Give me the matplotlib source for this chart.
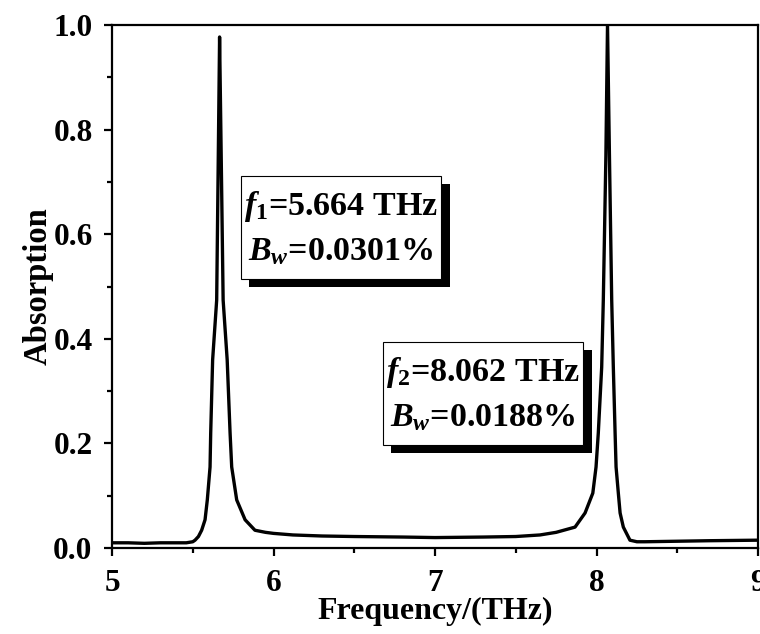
import matplotlib
matplotlib.use("Agg")
import matplotlib.pyplot as plt
from matplotlib.ticker import AutoMinorLocator
import matplotlib.patheffects as pe

# ---- data ----
freq = [5.00, 5.10, 5.20, 5.30, 5.40, 5.46, 5.50, 5.514, 5.535, 5.555, 5.576, 5.590, 5.607,
        5.611, 5.623, 5.648, 5.658, 5.666, 5.676, 5.688, 5.713, 5.731, 5.741, 5.772,
        5.824, 5.885, 5.95, 6.00, 6.12, 6.30, 6.50, 6.80, 7.00, 7.30, 7.50, 7.65, 7.75,
        7.867, 7.929, 7.977, 7.997, 8.011, 8.032, 8.042, 8.058, 8.068, 8.080, 8.094,
        8.104, 8.115, 8.121, 8.135, 8.146, 8.166, 8.207, 8.25, 8.30, 8.50, 8.70, 9.00]
absorption = [0.010, 0.010, 0.009, 0.010, 0.010, 0.010, 0.012, 0.015, 0.022, 0.034, 0.054,
              0.092, 0.155, 0.22, 0.36, 0.474, 0.75, 0.977, 0.75, 0.474, 0.36, 0.22, 0.155,
              0.092, 0.054, 0.034, 0.030, 0.028, 0.025, 0.023, 0.022, 0.021, 0.020, 0.021,
              0.022, 0.025, 0.030, 0.040, 0.067, 0.105, 0.155, 0.22, 0.346, 0.474, 0.75, 1.0,
              0.75, 0.474, 0.346, 0.22, 0.155, 0.105, 0.067, 0.040, 0.015, 0.012, 0.012,
              0.013, 0.014, 0.015]

xticks = [5, 6, 7, 8, 9]
yticks = [0.0, 0.2, 0.4, 0.6, 0.8, 1.0]

box1_text = "$f_{\\mathit{1}}$=5.664 THz\n$B_{w}$=0.0301%"
box2_text = "$f_{\\mathit{2}}$=8.062 THz\n$B_{w}$=0.0188%"

plt.rcParams["font.family"] = ["Liberation Serif", "DejaVu Serif"]
plt.rcParams["font.weight"] = "bold"
plt.rcParams["mathtext.fontset"] = "custom"
plt.rcParams["mathtext.it"] = "Liberation Serif:italic:bold"
plt.rcParams["mathtext.rm"] = "Liberation Serif:bold"
plt.rcParams["mathtext.bf"] = "Liberation Serif:bold"

fig = plt.figure(figsize=(7.6, 6.34), dpi=100)
ax = fig.add_axes([0.1474, 0.1356, 0.8500, 0.8250])

ax.plot(freq, absorption, color="black", lw=2.4, solid_joinstyle="round")

ax.set_xlim(5, 9)
ax.set_ylim(0, 1.0)
ax.set_xticks(xticks)
ax.set_yticks(yticks)
ax.set_xticklabels([str(t) for t in xticks])
ax.set_yticklabels([f"{t:.1f}" for t in yticks])
ax.xaxis.set_minor_locator(AutoMinorLocator(2))
ax.yaxis.set_minor_locator(AutoMinorLocator(2))
ax.tick_params(which="major", direction="out", length=6, width=1.6, labelsize=22.5)
ax.tick_params(axis="x", which="major", pad=9)
ax.tick_params(axis="y", which="major", pad=8)
ax.tick_params(which="minor", direction="out", length=3.5, width=1.6)
for lab in ax.get_xticklabels() + ax.get_yticklabels():
    lab.set_fontweight("bold")
for s in ax.spines.values():
    s.set_linewidth(1.6)

ax.set_xlabel("Frequency/(THz)", fontsize=23, fontweight="bold", labelpad=-1)
ax.set_ylabel("Absorption", fontsize=23.5, fontweight="bold", labelpad=0)

shadow = [pe.SimplePatchShadow(offset=(6, -6), shadow_rgbFace="black", alpha=1.0), pe.Normal()]
for (tx, ty, txt) in [(6.418, 0.611, box1_text), (7.297, 0.294, box2_text)]:
    t = ax.text(tx, ty, txt, ha="center", va="center", fontsize=24.5, fontweight="bold",
                linespacing=1.5,
                bbox=dict(boxstyle="square,pad=0.1", mutation_aspect=3.4,
                          facecolor="white", edgecolor="black", lw=0.8))
    t.get_bbox_patch().set_path_effects(shadow)

fig.savefig("out.png", dpi=100)
